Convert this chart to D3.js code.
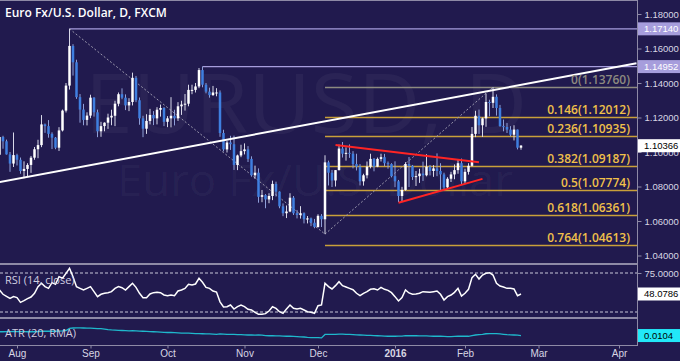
<!DOCTYPE html>
<html>
<head>
<meta charset="utf-8">
<script src="https://d3js.org/d3.v7.min.js"></script>
<style>
  html, body { margin: 0; padding: 0; background: #211a4e; }
  svg { display: block; }
  text { font-family: "Open Sans", "DejaVu Sans", sans-serif; }
  .ax text, .box text { font-family: "Liberation Sans", Arial, sans-serif; }
</style>
</head>
<body>
<svg id="chart" width="680" height="361"></svg>
<script>
// EUR/USD daily candles, Jul 27 2015 .. Feb 23 2016 (one value per trading day)
const opens = [
  1.0984, 1.1087, 1.1062, 1.0986, 1.0933,
  1.0982, 1.0955, 1.0890, 1.0902, 1.0925, 1.0967, 1.1016, 1.1040, 1.1160, 1.1150, 1.1105,
  1.1083, 1.1025, 1.1125, 1.1240, 1.1385, 1.1615, 1.1520, 1.1318, 1.1246, 1.1186,
  1.1211, 1.1315, 1.1230, 1.1120, 1.1150, 1.1170, 1.1200, 1.1210, 1.1280, 1.1335, 1.1315,
  1.1270, 1.1290, 1.1430, 1.1300, 1.1195, 1.1135, 1.1180, 1.1215, 1.1195, 1.1245, 1.1255,
  1.1175, 1.1195, 1.1210, 1.1195, 1.1265, 1.1275, 1.1280, 1.1360, 1.1360, 1.1380, 1.1475,
  1.1390, 1.1350, 1.1330, 1.1345, 1.1345, 1.1110, 1.1015, 1.1055, 1.1045, 1.0925, 1.0980,
  1.1005, 1.1015, 1.0960, 1.0865, 1.0880, 1.0740, 1.0750, 1.0725, 1.0745, 1.0815, 1.0770,
  1.0685, 1.0645, 1.0655, 1.0735, 1.0645, 1.0635, 1.0645, 1.0610, 1.0615, 1.0590,
  1.0565, 1.0630, 1.0610, 1.0940, 1.0880, 1.0835, 1.0895, 1.1020, 1.0990, 1.0995, 1.0990,
  1.0930, 1.0915, 1.0830, 1.0865, 1.0915, 1.0960, 1.0915, 1.0960, 1.0970, 1.0935, 1.0930,
  1.0860, 1.0830, 1.0745, 1.0780, 1.0930, 1.0920, 1.0855, 1.0860, 1.0875, 1.0865, 1.0915,
  1.0890, 1.0905, 1.0890, 1.0870, 1.0795, 1.0845, 1.0870, 1.0895, 1.0935,
  1.0830, 1.0885, 1.0920, 1.1105, 1.1210, 1.1155, 1.1195, 1.1290, 1.1285, 1.1320, 1.1255,
  1.1150, 1.1145, 1.1130, 1.1100, 1.1130, 1.1025
];
const highs = [
  1.1128, 1.1094, 1.1072, 1.1000, 1.1113,
  1.0990, 1.0968, 1.0946, 1.0935, 1.0977, 1.1029, 1.1071, 1.1214, 1.1165, 1.1185, 1.1114,
  1.1087, 1.1144, 1.1246, 1.1400, 1.1714, 1.1625, 1.1535, 1.1336, 1.1279, 1.1230,
  1.1332, 1.1318, 1.1246, 1.1175, 1.1172, 1.1222, 1.1245, 1.1297, 1.1345, 1.1369, 1.1334,
  1.1312, 1.1460, 1.1441, 1.1316, 1.1210, 1.1219, 1.1250, 1.1237, 1.1260, 1.1275, 1.1260,
  1.1208, 1.1318, 1.1245, 1.1289, 1.1297, 1.1336, 1.1390, 1.1390, 1.1400, 1.1487, 1.1495,
  1.1400, 1.1373, 1.1383, 1.1370, 1.1357, 1.1129, 1.1065, 1.1094, 1.1095, 1.0985, 1.1042,
  1.1050, 1.1034, 1.0975, 1.0921, 1.0905, 1.0780, 1.0756, 1.0761, 1.0834, 1.0828, 1.0772,
  1.0702, 1.0690, 1.0761, 1.0745, 1.0664, 1.0686, 1.0650, 1.0629, 1.0620, 1.0612,
  1.0639, 1.0640, 1.0981, 1.0950, 1.0896, 1.0895, 1.1043, 1.1058, 1.1027, 1.1044, 1.1005,
  1.0990, 1.0930, 1.0874, 1.0945, 1.0990, 1.0965, 1.0968, 1.0990, 1.0989, 1.0945, 1.0935,
  1.0946, 1.0838, 1.0798, 1.0941, 1.0971, 1.0925, 1.0890, 1.0903, 1.0944, 1.0987,
  1.0925, 1.0924, 1.0992, 1.0935, 1.0880, 1.0854, 1.0885, 1.0928, 1.0957, 1.0962,
  1.0903, 1.0935, 1.1145, 1.1239, 1.1246, 1.1200, 1.1339, 1.1303, 1.1376, 1.1334,
  1.1273, 1.1188, 1.1168, 1.1150, 1.1155, 1.1130, 1.1040
];
const lows = [
  1.0977, 1.1019, 1.0985, 1.0885, 1.0913,
  1.0922, 1.0874, 1.0848, 1.0856, 1.0879, 1.0955, 1.0964, 1.1028, 1.1111, 1.1083, 1.1017,
  1.1016, 1.1006, 1.1119, 1.1229, 1.1362, 1.1443, 1.1308, 1.1170, 1.1155, 1.1154,
  1.1196, 1.1205, 1.1086, 1.1088, 1.1120, 1.1134, 1.1155, 1.1150, 1.1265, 1.1306, 1.1243,
  1.1237, 1.1270, 1.1289, 1.1158, 1.1086, 1.1105, 1.1160, 1.1156, 1.1160, 1.1205, 1.1150,
  1.1144, 1.1143, 1.1154, 1.1180, 1.1215, 1.1240, 1.1265, 1.1335, 1.1345, 1.1370, 1.1375,
  1.1340, 1.1315, 1.1325, 1.1323, 1.1088, 1.1003, 1.0997, 1.1012, 1.0896, 1.0895, 1.0970,
  1.0986, 1.0942, 1.0857, 1.0844, 1.0706, 1.0709, 1.0674, 1.0703, 1.0721, 1.0742, 1.0674,
  1.0628, 1.0617, 1.0651, 1.0635, 1.0615, 1.0614, 1.0586, 1.0586, 1.0570, 1.0558,
  1.0562, 1.0565, 1.0524, 1.0806, 1.0797, 1.0800, 1.0893, 1.0968, 1.0950, 1.0966, 1.0905,
  1.0893, 1.0806, 1.0805, 1.0847, 1.0905, 1.0888, 1.0912, 1.0945, 1.0918, 1.0903, 1.0853,
  1.0796, 1.0710, 1.0712, 1.0775, 1.0797, 1.0838, 1.0803, 1.0821, 1.0832, 1.0859,
  1.0864, 1.0856, 1.0860, 1.0778, 1.0775, 1.0785, 1.0826, 1.0842, 1.0874, 1.0811,
  1.0815, 1.0869, 1.0916, 1.1086, 1.1104, 1.1087, 1.1146, 1.1207, 1.1255, 1.1211,
  1.1147, 1.1120, 1.1110, 1.1090, 1.1067, 1.1015, 1.1013
];
const closes = [
  1.1087, 1.1062, 1.0986, 1.0933, 1.0982,
  1.0955, 1.0890, 1.0902, 1.0925, 1.0967, 1.1016, 1.1040, 1.1160, 1.1150, 1.1105, 1.1083,
  1.1025, 1.1125, 1.1240, 1.1385, 1.1615, 1.1520, 1.1318, 1.1246, 1.1186, 1.1211,
  1.1315, 1.1230, 1.1120, 1.1150, 1.1170, 1.1200, 1.1210, 1.1280, 1.1335, 1.1315, 1.1270,
  1.1290, 1.1430, 1.1300, 1.1195, 1.1135, 1.1180, 1.1215, 1.1195, 1.1245, 1.1255, 1.1175,
  1.1195, 1.1210, 1.1195, 1.1265, 1.1275, 1.1280, 1.1360, 1.1360, 1.1380, 1.1475, 1.1390,
  1.1350, 1.1330, 1.1345, 1.1345, 1.1110, 1.1015, 1.1055, 1.1045, 1.0925, 1.0980, 1.1005,
  1.1015, 1.0960, 1.0865, 1.0880, 1.0740, 1.0750, 1.0725, 1.0745, 1.0815, 1.0770, 1.0685,
  1.0645, 1.0655, 1.0735, 1.0645, 1.0635, 1.0645, 1.0610, 1.0615, 1.0590, 1.0565,
  1.0630, 1.0610, 1.0940, 1.0880, 1.0835, 1.0895, 1.1020, 1.0990, 1.0995, 1.0990, 1.0930,
  1.0915, 1.0830, 1.0865, 1.0915, 1.0960, 1.0915, 1.0960, 1.0970, 1.0935, 1.0930, 1.0860,
  1.0830, 1.0745, 1.0780, 1.0930, 1.0920, 1.0855, 1.0860, 1.0875, 1.0865, 1.0915,
  1.0890, 1.0905, 1.0890, 1.0870, 1.0795, 1.0845, 1.0870, 1.0895, 1.0935, 1.0830,
  1.0885, 1.0920, 1.1105, 1.1210, 1.1155, 1.1195, 1.1290, 1.1285, 1.1320, 1.1255,
  1.1150, 1.1145, 1.1130, 1.1100, 1.1130, 1.1025, 1.1037
];
// RSI (14, close)
const rsi = [
  53.2, 47.7, 45.1, 42.5, 44.7, 43.4, 37.4, 39.5, 42.1, 44.2,
  49.0, 57.5, 61.8, 57.5, 55.3, 62.6, 60.5, 70.3, 68.2, 74.6,
  81.0, 70.3, 57.5, 55.3, 53.2, 55.3, 57.5, 51.1, 44.7, 47.7,
  49.0, 49.8, 51.1, 55.3, 57.5, 56.2, 53.2, 57.5, 61.8, 56.6,
  49.0, 43.4, 43.4, 48.1, 49.8, 50.2, 49.8, 46.8, 45.9, 46.8,
  45.9, 51.9, 53.2, 55.3, 60.5, 59.6, 60.9, 68.2, 63.1, 56.6,
  55.3, 51.9, 50.5, 38.0, 31.5, 31.8, 34.0, 28.8, 31.8, 34.0,
  31.8, 28.4, 27.6, 24.6, 22.0, 22.0, 22.9, 26.3, 31.8, 29.7,
  25.4, 23.3, 28.8, 34.0, 29.7, 28.8, 29.7, 27.6, 25.4, 24.6,
  23.3, 33.1, 34.0, 61.8, 57.5, 54.5, 58.8, 63.9, 58.8, 57.1,
  55.3, 53.6, 49.0, 45.9, 49.0, 51.1, 54.1, 54.9, 53.2, 56.6,
  54.1, 52.8, 49.8, 44.7, 39.1, 43.4, 53.2, 49.4, 47.7, 48.1,
  49.0, 51.1, 50.7, 50.2, 51.1, 51.9, 47.7, 40.4, 44.7, 46.8,
  50.2, 55.3, 45.5, 49.0, 54.1, 69.1, 73.3, 67.3, 72.4, 74.6,
  75.4, 72.4, 61.8, 58.3, 57.1, 55.3, 55.3, 54.5, 45.9, 48.0786
];
// ATR (20, RMA)
const atr = [
  0.0125, 0.0125, 0.0126, 0.0126, 0.0127, 0.0126, 0.0126, 0.0126, 0.0125, 0.0125,
  0.0125, 0.0126, 0.0128, 0.0128, 0.0128, 0.0128, 0.0128, 0.0129, 0.0130, 0.0132,
  0.0144, 0.0146, 0.0147, 0.0147, 0.0146, 0.0145, 0.0145, 0.0144, 0.0143, 0.0142,
  0.0140, 0.0137, 0.0135, 0.0134, 0.0133, 0.0132, 0.0131, 0.0130, 0.0131, 0.0130,
  0.0129, 0.0128, 0.0127, 0.0126, 0.0125, 0.0124, 0.0123, 0.0122, 0.0121, 0.0121,
  0.0120, 0.0119, 0.0118, 0.0117, 0.0117, 0.0116, 0.0115, 0.0115, 0.0114, 0.0113,
  0.0113, 0.0112, 0.0111, 0.0113, 0.0112, 0.0111, 0.0110, 0.0110, 0.0109, 0.0109,
  0.0108, 0.0107, 0.0107, 0.0106, 0.0107, 0.0106, 0.0104, 0.0103, 0.0103, 0.0102,
  0.0102, 0.0101, 0.0100, 0.0100, 0.0099, 0.0098, 0.0097, 0.0096, 0.0094, 0.0093,
  0.0092, 0.0092, 0.0091, 0.0110, 0.0111, 0.0111, 0.0110, 0.0112, 0.0112, 0.0111,
  0.0110, 0.0109, 0.0108, 0.0107, 0.0106, 0.0105, 0.0105, 0.0104, 0.0103, 0.0102,
  0.0101, 0.0100, 0.0100, 0.0100, 0.0101, 0.0101, 0.0103, 0.0104, 0.0103, 0.0103,
  0.0102, 0.0102, 0.0102, 0.0101, 0.0100, 0.0100, 0.0100, 0.0099, 0.0098, 0.0098,
  0.0099, 0.0100, 0.0100, 0.0100, 0.0100, 0.0104, 0.0107, 0.0109, 0.0111, 0.0114,
  0.0115, 0.0115, 0.0115, 0.0113, 0.0111, 0.0109, 0.0108, 0.0107, 0.0106, 0.0104
];

// Axis ticks / labels
const priceTicks = [1.18, 1.16, 1.14, 1.12, 1.10, 1.08, 1.06, 1.04];
const monthLabels = ["Aug", "Sep", "Oct", "Nov", "Dec", "2016", "Feb", "Mar", "Apr"];
const holidays = ["2015-12-25", "2016-01-01"];

// Fibonacci retracement levels
const fibRatios = ["0", "0.146", "0.236", "0.382", "0.5", "0.618", "0.764"];
const fibPrices = [1.13760, 1.12012, 1.10935, 1.09187, 1.07774, 1.06361, 1.04613];

// Horizontal reference levels (start date, price)
const levelDates = ["2015-08-24", "2015-10-15"];
const levelPrices = [1.17140, 1.14952];

// Drawn lines: [date, price] pairs
const trendLine = [["2015-07-27", 1.0826], ["2016-04-08", 1.1514]];
const wedgeTop = [["2015-12-08", 1.1040], ["2016-02-05", 1.0940]];
const wedgeBottom = [["2016-01-05", 1.0706], ["2016-02-08", 1.0844]];
const swingDown = [["2015-08-24", 1.1714], ["2015-12-03", 1.0524]];
const swingUp = [["2015-12-03", 1.0524], ["2016-02-11", 1.1376]];
const fibStart = "2015-12-03";

const lastPrice = 1.10366;
const lastRsi = 48.0786;
const lastAtr = 0.0104;

// ---- calendar of trading days (weekdays, minus holidays) ----
const fmt = d3.timeFormat("%Y-%m-%d");
const days = d3.timeDay.range(new Date(2015, 6, 27), new Date(2016, 4, 1))
  .filter(d => d.getDay() % 6 !== 0 && !holidays.includes(fmt(d)));
const dayIndex = new Map(days.map((d, i) => [fmt(d), i]));
const idx = s => dayIndex.get(s);

const W = 680, H = 361;
const plotRight = 637;
const mainTop = 0, mainBottom = 263;
const rsiTop = 265, rsiBottom = 317;
const atrTop = 319, atrBottom = 345;

const x = d3.scaleLinear().domain([0, 182]).range([-0.5, 636.5]);
const y = d3.scaleLinear().domain([1.04, 1.18]).range([255.5, 14]);
const yRsi = d3.scaleLinear().domain([25, 75]).range([312, 273]);
const yAtr = d3.scaleLinear().domain([0.0057, 0.0196]).range([344, 319]);

const UP = "#ffffff", DOWN = "#3f7fe0", GOLD = "#c9a03a", LAV = "#a69ddc";

const svg = d3.select("#chart");
svg.append("rect").attr("width", W).attr("height", H).attr("fill", "#211a4e");

const defs = svg.append("defs");
defs.append("clipPath").attr("id", "clipMain")
  .append("rect").attr("x", 0).attr("y", mainTop).attr("width", plotRight).attr("height", mainBottom - mainTop);
defs.append("clipPath").attr("id", "clipRsi")
  .append("rect").attr("x", 0).attr("y", rsiTop).attr("width", plotRight).attr("height", rsiBottom - rsiTop);
defs.append("clipPath").attr("id", "clipAtr")
  .append("rect").attr("x", 0).attr("y", atrTop).attr("width", plotRight).attr("height", atrBottom - atrTop);

// watermark
const wm = svg.append("g").attr("fill", "#ffffff").attr("fill-opacity", 0.045);
wm.append("text").attr("x", 85).attr("y", 133)
  .attr("font-size", 82).attr("textLength", 442).attr("lengthAdjust", "spacingAndGlyphs")
  .text("EURUSD, D");
wm.append("text").attr("x", 117).attr("y", 196)
  .attr("font-size", 44).attr("textLength", 396).attr("lengthAdjust", "spacingAndGlyphs")
  .text("Euro Fx/U.S. Dollar");

const main = svg.append("g").attr("clip-path", "url(#clipMain)");

// horizontal reference levels
main.selectAll(".level").data(levelPrices).join("line")
  .attr("x1", (d, i) => x(idx(levelDates[i]))).attr("x2", plotRight)
  .attr("y1", d => y(d)).attr("y2", d => y(d))
  .attr("stroke", LAV).attr("stroke-width", 1.2);

// fib lines
main.selectAll(".fib").data(fibPrices).join("line")
  .attr("x1", x(idx(fibStart))).attr("x2", plotRight)
  .attr("y1", d => Math.round(y(d)) + 0.5).attr("y2", d => Math.round(y(d)) + 0.5)
  .attr("stroke", (d, i) => i === 0 ? "#8d8a80" : GOLD).attr("stroke-width", 1.6);

// dotted swing lines
[swingDown, swingUp].forEach(seg => {
  main.append("line")
    .attr("x1", x(idx(seg[0][0]))).attr("y1", y(seg[0][1]))
    .attr("x2", x(idx(seg[1][0]))).attr("y2", y(seg[1][1]))
    .attr("stroke", "#9a97ad").attr("stroke-width", 1).attr("stroke-dasharray", "2,2");
});

// candles
const candles = closes.map((c, i) => ({ i, o: opens[i], h: highs[i], l: lows[i], c }));
const cg = main.append("g");
cg.selectAll(".wick").data(candles).join("line")
  .attr("x1", d => x(d.i)).attr("x2", d => x(d.i))
  .attr("y1", d => y(d.h)).attr("y2", d => y(d.l))
  .attr("stroke", d => d.c >= d.o ? "#d8d8e8" : "#8f9fd8").attr("stroke-width", 1);
cg.selectAll(".body").data(candles).join("rect")
  .attr("x", d => x(d.i) - 1.25).attr("width", 2.5)
  .attr("y", d => y(Math.max(d.o, d.c)))
  .attr("height", d => Math.max(1, Math.abs(y(d.o) - y(d.c))))
  .attr("fill", d => d.c >= d.o ? UP : DOWN);

// trend line
const tl = d3.line().x(d => x(idx(d[0]))).y(d => y(d[1]));
main.append("path").attr("d", tl(trendLine))
  .attr("stroke", "#ffffff").attr("stroke-width", 2).attr("fill", "none");
[wedgeTop, wedgeBottom].forEach(seg => {
  main.append("path").attr("d", tl(seg))
    .attr("stroke", "#ff2424").attr("stroke-width", 2).attr("fill", "none");
});

// fib labels
main.selectAll(".fibLabel").data(fibPrices).join("text")
  .attr("x", 630).attr("y", d => y(d) - 3)
  .attr("text-anchor", "end").attr("font-size", 12).attr("font-weight", 600)
  .attr("fill", (d, i) => i === 0 ? "#8d8a80" : "#f0c04a")
  .text((d, i) => `${fibRatios[i]}(${d.toFixed(5)})`);

// title
svg.append("text").attr("x", 5).attr("y", 17)
  .attr("font-size", 12).attr("font-weight", 600).attr("fill", "#ffffff")
  .text("Euro Fx/U.S. Dollar, D, FXCM");

// RSI panel
const rsiG = svg.append("g");
[75, 25].forEach(v => {
  rsiG.append("line").attr("x1", 0).attr("x2", plotRight)
    .attr("y1", yRsi(v)).attr("y2", yRsi(v))
    .attr("stroke", "#c8c6d8").attr("stroke-width", 1).attr("stroke-dasharray", "3,2");
});
rsiG.append("path").attr("clip-path", "url(#clipRsi)")
  .attr("d", d3.line().x((d, i) => x(i)).y(d => yRsi(d))(rsi))
  .attr("fill", "none").attr("stroke", "#ffffff").attr("stroke-width", 1.5);
rsiG.append("text").attr("x", 5).attr("y", 284)
  .attr("font-size", 11).attr("fill", "#d0cee0").text("RSI (14, close)");

// ATR panel
const atrG = svg.append("g");
atrG.append("path").attr("clip-path", "url(#clipAtr)")
  .attr("d", d3.line().x((d, i) => x(i)).y(d => yAtr(d))(atr))
  .attr("fill", "none").attr("stroke", "#1fb8cc").attr("stroke-width", 1.3);
atrG.append("text").attr("x", 5).attr("y", 337)
  .attr("font-size", 11).attr("fill", "#d0cee0").text("ATR (20, RMA)");

// frame / separators
const frame = svg.append("g").attr("stroke", "#8e8aa6");
frame.append("line").attr("x1", 0).attr("x2", plotRight).attr("y1", 0.5).attr("y2", 0.5).attr("stroke-width", 1);
[264, 318].forEach(v => frame.append("line").attr("x1", 0).attr("x2", plotRight)
  .attr("y1", v).attr("y2", v).attr("stroke-width", 2));
frame.append("line").attr("x1", 0).attr("x2", plotRight).attr("y1", atrBottom + 0.5).attr("y2", atrBottom + 0.5);
frame.append("line").attr("x1", plotRight + 0.5).attr("x2", plotRight + 0.5).attr("y1", 0).attr("y2", atrBottom + 1);

// right price axis
const axisFont = g => g.selectAll("text").attr("font-size", 9.5).attr("fill", "#d8d6e4");
const yAxis = svg.append("g").attr("class", "ax").attr("transform", `translate(${plotRight + 0.5},0)`)
  .call(d3.axisRight(y).tickValues(priceTicks).tickFormat(d3.format(".5f")).tickSize(4).tickPadding(3));
yAxis.select(".domain").remove();
yAxis.selectAll("line").attr("stroke", "#8e8aa6");
axisFont(yAxis);

svg.append("g").attr("class", "ax").attr("transform", `translate(${plotRight + 0.5},0)`)
  .call(d3.axisRight(yRsi).tickValues([75]).tickFormat(d3.format(".4f")).tickSize(4).tickPadding(3))
  .call(g => g.select(".domain").remove())
  .call(g => g.selectAll("line").attr("stroke", "#8e8aa6"))
  .call(axisFont);

// value boxes on the right axis
const boxes = [
  { y: y(levelPrices[0]), text: levelPrices[0].toFixed(5), bg: LAV, fg: "#ffffff" },
  { y: y(levelPrices[1]), text: levelPrices[1].toFixed(5), bg: LAV, fg: "#ffffff" },
  { y: y(lastPrice), text: lastPrice.toFixed(5), bg: "#ffffff", fg: "#000000" },
  { y: yRsi(lastRsi), text: lastRsi.toFixed(4), bg: "#ffffff", fg: "#000000" },
  { y: yAtr(lastAtr), text: lastAtr.toFixed(4), bg: "#22e8f8", fg: "#000000" }
];
const bx = svg.append("g").attr("class", "box").selectAll("g").data(boxes).join("g")
  .attr("transform", d => `translate(${plotRight + 1},${d.y})`);
bx.append("rect").attr("x", 0).attr("y", -6.5).attr("width", W - plotRight).attr("height", 13)
  .attr("fill", d => d.bg);
bx.append("text").attr("x", 6).attr("dy", "0.35em").attr("font-size", 9.5)
  .attr("fill", d => d.fg).text(d => d.text);

// bottom date axis: first trading day of each month
const monthStarts = d3.timeMonth.range(new Date(2015, 7, 1), new Date(2016, 4, 1))
  .map(m => days.findIndex(d => d >= m));
const xAxis = svg.append("g").attr("class", "ax").attr("transform", `translate(0,${atrBottom + 0.5})`)
  .call(d3.axisBottom(x).tickValues(monthStarts).tickSize(3).tickPadding(1)
    .tickFormat((d, i) => monthLabels[i]));
xAxis.select(".domain").remove();
xAxis.selectAll("line").attr("stroke", "#8e8aa6");
xAxis.selectAll("text").attr("font-size", 10).attr("fill", "#d8d6e4")
  .attr("font-weight", (d, i) => monthLabels[i] === "2016" ? 700 : 400);
</script>
</body>
</html>
